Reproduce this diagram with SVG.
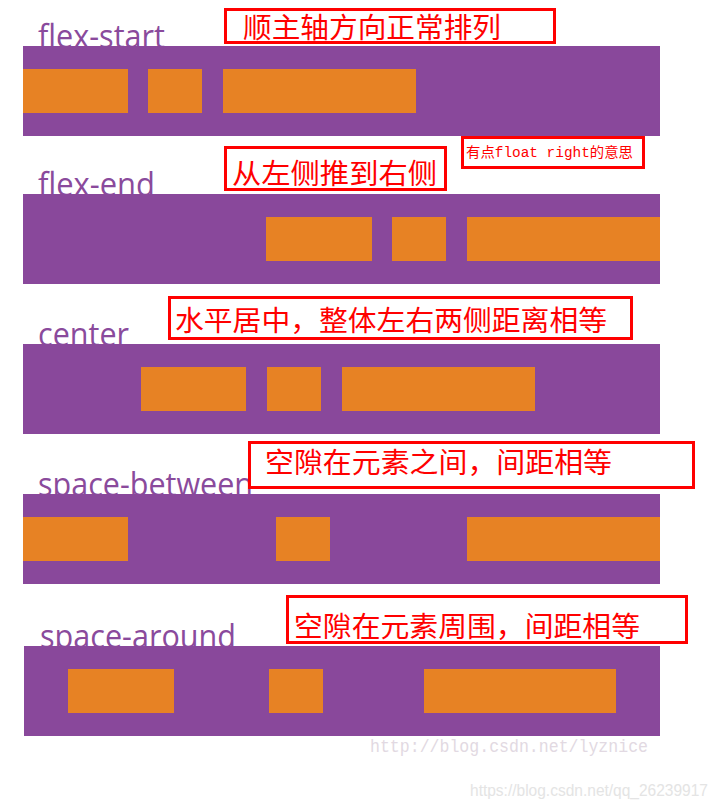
<svg xmlns="http://www.w3.org/2000/svg" width="717" height="809" viewBox="0 0 717 809">
<style>
.lbl{font-family:"Open Sans","Noto Sans",sans-serif;font-size:32px;fill:#8a4a9c}
.box{fill:#89489b}
.item{fill:#e78224}
.note{fill:#fff;stroke:#ff0000;stroke-width:3}
.cn{font-family:"Noto Sans CJK SC","Noto Sans",sans-serif;fill:#ff0000;font-size:28px}
.wm1{font-family:"Liberation Mono","Noto Sans CJK SC",monospace;font-size:18px;fill:#e2d9e2}
.wm2{font-family:"Liberation Sans",sans-serif;font-size:16px;fill:#e4e4e4}
</style>
<rect width="717" height="809" fill="#fff"/>
<g id="row-flex-start">
<text class="lbl" x="38" y="48" textLength="127" lengthAdjust="spacingAndGlyphs">flex-start</text>
<rect class="box" x="23" y="46" width="637" height="90"/>
<rect class="item" x="23" y="69" width="105" height="44"/>
<rect class="item" x="148" y="69" width="54" height="44"/>
<rect class="item" x="223" y="69" width="193" height="44"/>
</g>
<g id="note-flex-start">
<rect class="note" x="225.5" y="9.5" width="329" height="33"/>
<text class="cn" x="243" y="38" textLength="258" lengthAdjust="spacingAndGlyphs">顺主轴方向正常排列</text>
</g>
<g id="row-flex-end">
<text class="lbl" x="38" y="196" textLength="117" lengthAdjust="spacingAndGlyphs">flex-end</text>
<rect class="box" x="23" y="194" width="637" height="90"/>
<rect class="item" x="266" y="217" width="106" height="44"/>
<rect class="item" x="392" y="217" width="54" height="44"/>
<rect class="item" x="467" y="217" width="193" height="44"/>
</g>
<g id="note-float">
<rect class="note" x="462.5" y="137.5" width="181" height="30"/>
<text x="466" y="157" font-family="Liberation Mono,'Noto Sans CJK SC',monospace" font-size="14" fill="#ff0000" textLength="167" lengthAdjust="spacingAndGlyphs">有点float right的意思</text>
</g>
<g id="note-flex-end">
<rect class="note" x="225.5" y="147.5" width="220" height="42"/>
<text class="cn" x="232" y="184" font-size="30" textLength="205" lengthAdjust="spacingAndGlyphs">从左侧推到右侧</text>
</g>
<g id="row-center">
<text class="lbl" x="38" y="346" textLength="91" lengthAdjust="spacingAndGlyphs">center</text>
<rect class="box" x="23" y="344" width="637" height="90"/>
<rect class="item" x="141" y="367" width="105" height="44"/>
<rect class="item" x="267" y="367" width="54" height="44"/>
<rect class="item" x="342" y="367" width="193" height="44"/>
</g>
<g id="note-center">
<rect class="note" x="169.5" y="297.5" width="462" height="41"/>
<text class="cn" x="175" y="331" textLength="432" lengthAdjust="spacingAndGlyphs">水平居中，整体左右两侧距离相等</text>
</g>
<g id="row-space-between">
<text class="lbl" x="38" y="496" textLength="215" lengthAdjust="spacingAndGlyphs">space-between</text>
<rect class="box" x="23" y="494" width="637" height="90"/>
<rect class="item" x="23" y="517" width="105" height="44"/>
<rect class="item" x="276" y="517" width="54" height="44"/>
<rect class="item" x="467" y="517" width="193" height="44"/>
</g>
<g id="note-space-between">
<rect class="note" x="249.5" y="442.5" width="444" height="45"/>
<text class="cn" x="265" y="473" textLength="347" lengthAdjust="spacingAndGlyphs">空隙在元素之间，间距相等</text>
</g>
<g id="row-space-around">
<text class="lbl" x="40" y="648" textLength="196" lengthAdjust="spacingAndGlyphs">space-around</text>
<rect class="box" x="24" y="646" width="636" height="90"/>
<rect class="item" x="68" y="669" width="106" height="44"/>
<rect class="item" x="269" y="669" width="54" height="44"/>
<rect class="item" x="424" y="669" width="192" height="44"/>
</g>
<g id="note-space-around">
<rect class="note" x="287.5" y="596.5" width="399" height="46"/>
<text class="cn" x="294" y="637" textLength="346" lengthAdjust="spacingAndGlyphs">空隙在元素周围，间距相等</text>
</g>
<g id="connectors"></g>
<text class="wm1" x="370" y="752" textLength="278" lengthAdjust="spacingAndGlyphs">http://blog.csdn.net/lyznice</text>
<text class="wm2" x="470" y="796" textLength="238" lengthAdjust="spacingAndGlyphs">https://blog.csdn.net/qq_26239917</text>
</svg>
